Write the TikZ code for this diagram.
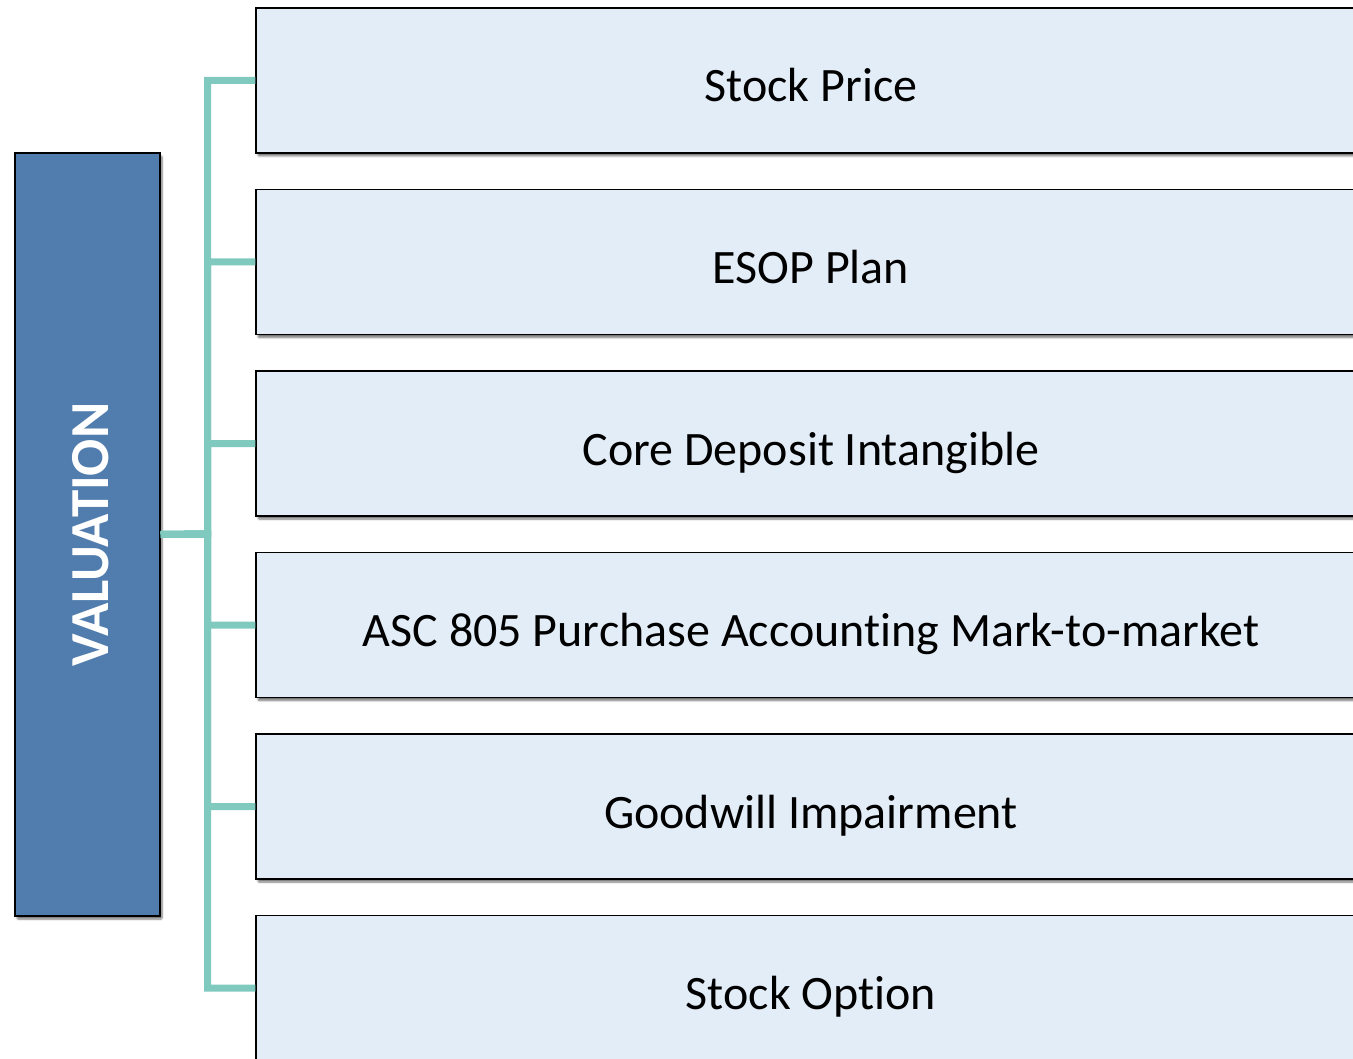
\documentclass[tikz,border=0pt]{standalone}
\usepackage{fontspec}
\setmainfont[Ligatures={TeX,NoCommon,NoRare,NoContextual}]{Carlito}
\usetikzlibrary{shadows.blur}

\definecolor{itemfill}{RGB}{227,237,248}
\definecolor{rootfill}{RGB}{80,124,174}
\definecolor{linkteal}{RGB}{128,201,191}

% plain "ti" without the font's ligature
\newcommand{\plainti}{t\kern0pt i}

\tikzset{
  boxshadow/.style={blur shadow={shadow xshift=2pt, shadow yshift=-3pt,
      shadow blur steps=6, shadow blur extra rounding=1pt, shadow opacity=55}},
  itembox/.style={draw=black, line width=1.5pt, fill=itemfill, boxshadow,
      minimum width=1110pt, minimum height=145pt, inner sep=0pt,
      font=\fontsize{48}{58}\selectfont, text height=52pt, text depth=9pt},
  rootbox/.style={draw=black, line width=1.5pt, fill=rootfill, boxshadow,
      rotate=90, minimum width=763pt, minimum height=145pt, inner sep=0pt,
      text=white, font=\fontsize{55}{66}\selectfont\bfseries,
      text height=50pt, text depth=9pt},
  link/.style={draw=linkteal, line width=7pt, line join=miter}
}

\begin{document}
\begin{tikzpicture}[x=1pt, y=-1pt]
  \useasboundingbox (0,0) rectangle (1353,1059);

  % root box
  \node[rootbox] (root) at (87.5,534.5) {VALUATION};

  % item boxes
  \node[itembox] (b1) at (811,80.5)  {Stock Price};
  \node[itembox] (b2) at (811,262)   {ESOP Plan};
  \node[itembox] (b3) at (811,443.5) {Core Deposit Intangible};
  \node[itembox] (b4) at (811,625)   {ASC 805 Purchase Accoun\plainti ng Mark-to-market};
  \node[itembox] (b5) at (811,806.5) {Goodwill Impairment};
  \node[itembox] (b6) at (811,988)   {Stock Op\plainti on};

  % connectors: root to trunk, trunk to each item
  \coordinate (trunk) at (207.5,534);
  \foreach \b in {b1,b2,b3,b4,b5,b6}{
    \draw[link] (root.south) -- (trunk) |- (\b.west);
  }
\end{tikzpicture}
\end{document}
